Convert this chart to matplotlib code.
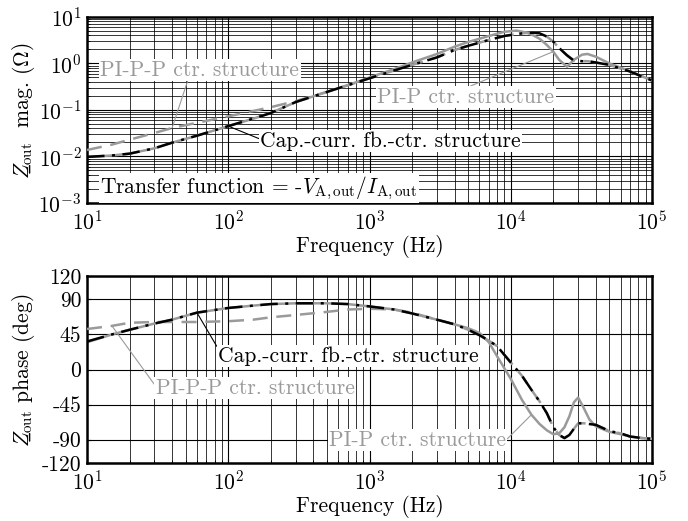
import numpy as np
import matplotlib
matplotlib.use("Agg")
import matplotlib.pyplot as plt
from matplotlib.ticker import LogLocator, NullFormatter

plt.rcParams['font.family'] = 'serif'
plt.rcParams['font.serif'] = ['cmr10']
plt.rcParams['mathtext.fontset'] = 'cm'
plt.rcParams['axes.formatter.use_mathtext'] = True
plt.rcParams['axes.unicode_minus'] = False

FS = 15.5
GRAY = '#9a9a9a'

# --- output impedance magnitude (Ohm) ---
f_mag = [10, 15, 20, 30, 40, 60, 100, 150, 200, 300, 500, 700, 1000, 1500, 2000,
         3000, 4000, 5000, 7000, 9000, 11000, 13000, 14500, 16000, 18000, 20000,
         22000, 25000, 28000, 32000, 35000, 40000, 50000, 70000, 100000]
mag_cap = [0.0098, 0.0105, 0.0115, 0.015, 0.0198, 0.028, 0.045, 0.065, 0.086, 0.148,
           0.245, 0.34, 0.48, 0.71, 0.93, 1.35, 1.95, 2.4, 3.2, 3.9, 4.3, 4.55, 4.6,
           4.45, 3.8, 2.95, 2.15, 1.5, 1.15, 1.12, 1.12, 1.05, 0.93, 0.67, 0.43]
mag_pip = [0.0098, 0.0105, 0.0115, 0.015, 0.0198, 0.028, 0.045, 0.065, 0.086, 0.148,
           0.245, 0.34, 0.5, 0.76, 1.05, 1.6, 2.3, 2.9, 3.9, 4.8, 5.1, 4.6, 4.0,
           3.4, 2.5, 1.8, 1.2, 0.85, 1.2, 1.55, 1.6, 1.4, 1.0, 0.68, 0.43]
mag_pipp = [0.0138, 0.018, 0.023, 0.032, 0.041, 0.053, 0.073, 0.095, 0.115, 0.155,
            0.245, 0.34, 0.48, 0.71, 0.93, 1.35, 1.95, 2.4, 3.2, 3.9, 4.3, 4.55, 4.6,
            4.45, 3.8, 2.95, 2.15, 1.5, 1.15, 1.12, 1.12, 1.05, 0.93, 0.67, 0.43]

# --- output impedance phase (deg) ---
f_ph = [10, 15, 20, 30, 40, 60, 100, 150, 200, 300, 500, 700, 1000, 1500, 2000, 3000,
        4000, 5000, 6000, 7000, 8000, 10000, 12000, 14000, 16000, 18000, 20000, 22000,
        24000, 26000, 28000, 30000, 33000, 36000, 40000, 50000, 60000, 70000, 85000,
        100000]
ph_cap = [36, 45, 51, 59, 64, 73, 79, 82, 84, 85, 85, 84, 81, 77, 72, 64,
          58, 51, 44, 37, 30, 9, -8, -26, -41, -56, -74, -84,
          -88, -84, -76, -69, -69, -70, -71, -79, -82, -86, -88, -89]
ph_pip = [35, 45, 51, 59, 64, 73, 79, 82, 84, 85, 85, 84, 81, 77, 72, 64,
          58, 53, 47, 35, 17, -12, -39, -58, -70, -78, -83, -82,
          -74, -60, -42, -36, -50, -64, -73, -80, -83, -86, -88, -89]
ph_pipp = [52, 56, 60, 61, 61, 61, 62, 64, 67, 70, 74, 77, 78, 77, 73, 64,
           58, 51, 44, 37, 30, 9, -8, -26, -41, -56, -74, -84,
           -88, -84, -76, -69, -69, -70, -71, -79, -82, -86, -88, -89]

phase_ticks = [-120, -90, -45, 0, 45, 90, 120]
phase_labels = ['-120', '-90', '-45', '0', '45', '90', '120']

fig = plt.figure(figsize=(6.88, 5.21), dpi=100)
ax1 = fig.add_axes([0.1265, 0.6104, 0.8212, 0.357])
ax2 = fig.add_axes([0.1265, 0.1113, 0.8212, 0.3589])

# underlined Z (underscore pulled back under the letter)
ZOUT = r'$\_\!\!\!\!\!Z_{\rm out}$'


def style_axis(ax):
    ax.set_xscale('log')
    ax.set_xlim(10, 1e5)
    ax.xaxis.set_major_locator(LogLocator(base=10, numticks=10))
    ax.xaxis.set_minor_locator(LogLocator(base=10, subs=np.arange(2, 10), numticks=50))
    ax.xaxis.set_minor_formatter(NullFormatter())
    ax.grid(True, which='major', color='k', lw=0.8)
    ax.grid(True, which='minor', color='k', lw=0.55)
    ax.set_axisbelow(True)
    ax.tick_params(which='both', direction='in', labelsize=FS, top=False, right=False)
    ax.tick_params(which='major', length=3)
    ax.tick_params(which='minor', length=2)
    ax.tick_params(axis='x', pad=5)
    ax.tick_params(axis='y', pad=4)
    for s in ax.spines.values():
        s.set_linewidth(1.8)
    ax.set_xlabel('Frequency (Hz)', fontsize=FS, labelpad=1)


def draw(ax, f, cap, pip, pipp):
    ax.plot(f, pip, color=GRAY, lw=1.8, zorder=2)
    ax.plot(f, pipp, color=GRAY, lw=1.8, dashes=(6, 3.5), zorder=3)
    ax.plot(f, cap, color='k', lw=1.8, dashes=(7, 3, 1.2, 3), zorder=4)


def label(ax, text, xy, xytext, color, relpos):
    ax.annotate(text, xy=xy, xytext=xytext, color=color, ha='center', va='center',
                fontsize=FS, zorder=6,
                bbox=dict(fc='white', ec='none', pad=1.0),
                arrowprops=dict(arrowstyle='-', color=color, lw=0.8,
                                shrinkA=0, shrinkB=0, relpos=relpos))


# magnitude
style_axis(ax1)
ax1.set_yscale('log')
ax1.set_ylim(1e-3, 10)
ax1.yaxis.set_major_locator(LogLocator(base=10, numticks=10))
ax1.yaxis.set_minor_locator(LogLocator(base=10, subs=np.arange(2, 10), numticks=50))
ax1.yaxis.set_minor_formatter(NullFormatter())
draw(ax1, f_mag, mag_cap, mag_pip, mag_pipp)
ax1.set_ylabel(ZOUT + r'  mag. ($\Omega$)', fontsize=FS)
ax1.yaxis.set_label_coords(-0.088, 0.5)

label(ax1, 'PI-P-P ctr. structure', (f_mag[4], mag_pipp[4]), (63, 0.72), GRAY, (0.44, 0.0))
label(ax1, 'PI-P ctr. structure', (f_mag[25], mag_pip[25]), (4800, 0.19), GRAY, (0.51, 1.0))
label(ax1, 'Cap.-curr. fb.-ctr. structure', (f_mag[6], mag_cap[6]), (1410, 0.0214), 'k', (0.0, 0.6))
ax1.text(12.4, 0.0021, r'Transfer function = -$V_{\rm A,out}/I_{\rm A,out}$', fontsize=FS,
         ha='left', va='center', zorder=6, bbox=dict(fc='white', ec='none', pad=1.0))

# phase
style_axis(ax2)
ax2.set_ylim(-120, 120)
ax2.set_yticks(phase_ticks, labels=phase_labels)
draw(ax2, f_ph, ph_cap, ph_pip, ph_pipp)
ax2.set_ylabel(ZOUT + r' phase (deg)', fontsize=FS)
ax2.yaxis.set_label_coords(-0.088, 0.5)

label(ax2, 'Cap.-curr. fb.-ctr. structure', (f_ph[5], ph_cap[5]), (708, 17), 'k', (0.0, 0.9))
label(ax2, 'PI-P-P ctr. structure', (f_ph[1], ph_pipp[1]), (155, -24), GRAY, (0.0, 0.6))
label(ax2, 'PI-P ctr. structure', (f_ph[23], ph_pip[23]), (2190, -90.5), GRAY, (1.0, 0.5))

fig.savefig('out.png', dpi=100)
